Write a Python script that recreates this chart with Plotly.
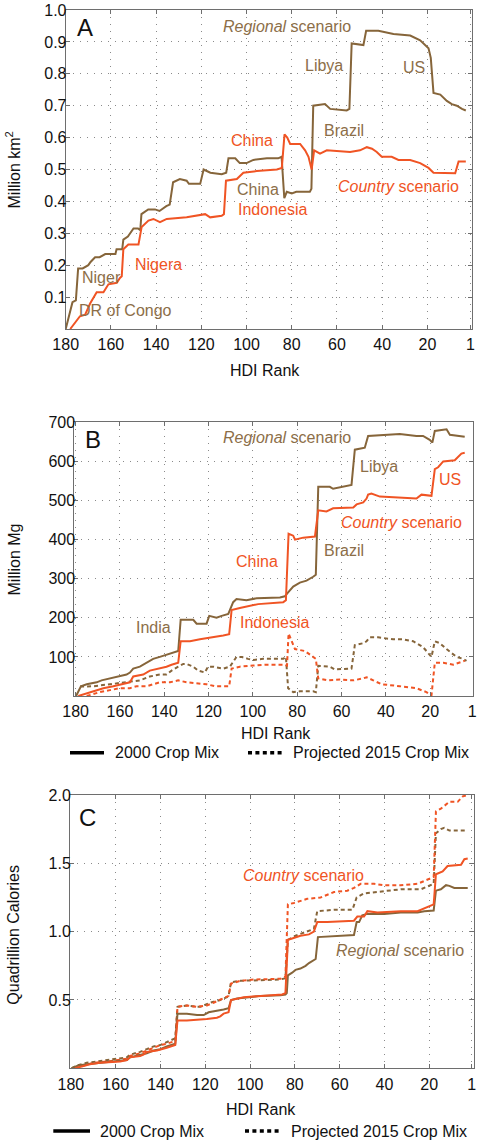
import plotly.graph_objects as go

# ---------------- data ----------------
# Panel A: cropland area, Million km2, versus HDI rank
A_reg_rank = [180, 178, 177, 175.5, 174.5, 172.5, 170, 169, 167, 165, 162.5, 158, 157.5, 155, 154.5, 152.5, 150, 148, 147, 146.5,
              143.5, 140.5, 138.5, 135.5, 134, 132.5, 129.5, 126.5, 125.5, 120.5, 119, 116, 111, 109, 108, 105, 103, 100, 97, 91,
              86, 84.5, 83.3, 82.2, 80, 78, 72, 71.3, 70.5, 65.3, 63, 55.7, 54.5, 53.5, 48.3, 47.1, 41.7, 35, 27.6, 23.2,
              19.5, 18.5, 17.3, 14.3, 11.4, 9.2, 7, 4.7, 3]
A_reg_val = [0, 0.06, 0.084, 0.09, 0.19, 0.19, 0.2, 0.21, 0.225, 0.225, 0.235, 0.235, 0.25, 0.25, 0.28, 0.29, 0.315, 0.315, 0.31, 0.36,
             0.375, 0.375, 0.37, 0.385, 0.39, 0.46, 0.47, 0.465, 0.455, 0.455, 0.5, 0.49, 0.485, 0.49, 0.535, 0.535, 0.52, 0.52, 0.53, 0.535,
             0.535, 0.54, 0.41, 0.43, 0.425, 0.43, 0.43, 0.44, 0.70, 0.705, 0.69, 0.685, 0.69, 0.895, 0.89, 0.935, 0.935, 0.925, 0.92, 0.905,
             0.88, 0.85, 0.74, 0.735, 0.715, 0.705, 0.70, 0.69, 0.685]
A_cty_rank = [178, 176, 173.7, 171.4, 169.2, 166.3, 163.3, 161.1, 157.4, 156, 155.2, 154.5, 152.3, 147.8, 146.4, 143.4, 141.2, 138.3, 135.3, 126.5,
              122, 118.3, 116.1, 111, 110, 109.1, 104.3, 101.4, 95.5, 86.6, 84.4, 83.2, 82, 80.7, 76.3, 74.1, 72.6, 71.2, 70.1, 67.5,
              64.5, 54.2, 49.8, 46.8, 44.5, 42.4, 40.2, 35.8, 32.8, 27.6, 23.2, 19.5, 17.3, 14.3, 7.7, 6.2, 3]
A_cty_val = [0, 0.02, 0.04, 0.045, 0.08, 0.115, 0.115, 0.14, 0.145, 0.16, 0.165, 0.25, 0.265, 0.265, 0.32, 0.34, 0.345, 0.335, 0.345, 0.35,
             0.355, 0.36, 0.35, 0.355, 0.36, 0.465, 0.47, 0.49, 0.495, 0.5, 0.505, 0.61, 0.60, 0.58, 0.58, 0.56, 0.54, 0.50, 0.56, 0.55,
             0.56, 0.555, 0.56, 0.57, 0.565, 0.555, 0.54, 0.54, 0.53, 0.53, 0.52, 0.505, 0.49, 0.49, 0.488, 0.525, 0.525]

# Panel B: production, Million Mg
B_reg_rank = [179.8, 177.6, 175, 170.5, 168.3, 164.5, 161.5, 157, 155.5, 154, 151, 148, 145, 142, 139, 136, 133.7, 132.6, 126.9, 125.4,
              120.9, 119.7, 116.4, 114.1, 111.1, 108.9, 107.4, 102.9, 98.3, 87.8, 85.6, 84.1, 81.8, 78.8, 75.8, 72.8, 71.6, 70.5, 65.3, 63.8,
              59.2, 55.5, 54, 49.5, 48, 41.2, 33.7, 26.2, 23.2, 20.2, 19, 17.9, 14.1, 12.6, 11.1, 8.1, 4.4]
B_reg_val = [0, 25, 30, 35, 40, 45, 50, 55, 60, 70, 75, 85, 95, 100, 105, 110, 115, 195, 195, 185,
             185, 205, 200, 205, 210, 240, 248, 245, 250, 252, 255, 265, 280, 290, 295, 305, 310, 535, 535, 530,
             535, 540, 630, 635, 665, 668, 670, 665, 665, 655, 648, 678, 680, 682, 668, 666, 663]
B_cty_rank = [178.8, 175.8, 173, 170.5, 167.5, 163, 158.5, 155.5, 154, 149.5, 146.5, 142.7, 139, 136.7, 133.7, 132.6, 128.4, 123.9, 117.9, 113.4,
              110.7, 109.6, 105.9, 101.4, 97.6, 86.3, 85.1, 83.9, 81.8, 81, 77.3, 72, 70.5, 66.8, 63.8, 54.7, 53.2, 50.2, 48.7, 48,
              46.5, 42.7, 33.7, 26.2, 23.9, 19.4, 17.9, 16.4, 14.1, 8.9, 5.9, 4.4]
B_cty_val = [0, 5, 10, 15, 20, 25, 30, 35, 50, 55, 65, 70, 75, 80, 85, 140, 140, 145, 150, 155,
             158, 220, 225, 230, 235, 240, 245, 415, 410, 400, 405, 408, 475, 472, 480, 482, 490, 495, 505, 515,
             518, 510, 508, 505, 515, 512, 580, 585, 600, 603, 620, 622]
B_reg15_rank = [178, 172, 164.5, 157, 151, 146.5, 142, 139, 136.7, 133.7, 131.4, 129.9, 126.9, 124.7, 121.7, 120.2, 117.9, 113.4, 110.4, 107.4,
                105.2, 102.2, 99.9, 95.4, 86.3, 85.1, 84.1, 81.8, 78.8, 72.8, 71.6, 70.5, 65.3, 63, 57.7, 55.5, 54, 50.2, 48.7, 47.2,
                43.5, 36.7, 32.2, 27.7, 23.2, 20.9, 19.4, 17.9, 15.6, 12.6, 10.4, 8.1, 5.1, 3.6]
B_reg15_val = [24, 25, 30, 35, 40, 50, 55, 55, 65, 75, 82, 82, 75, 65, 60, 75, 75, 70, 75, 100,
               100, 95, 92, 95, 95, 100, 20, 10, 12, 12, 10, 77, 75, 68, 70, 70, 130, 135, 140, 150,
               150, 145, 145, 140, 125, 110, 100, 140, 135, 120, 110, 100, 95, 90]
B_cty15_rank = [175, 172, 169, 164.5, 160, 155.5, 152.5, 148, 145, 142, 137.4, 133.7, 130, 125.4, 120.9, 117.1, 114.9, 110.7, 109.6, 105.9,
                99.9, 93.8, 85.6, 84.6, 83.9, 82.6, 81, 76.5, 72.8, 71.6, 70.5, 66, 60.8, 54.7, 50.2, 48.7, 45.7, 41.9, 33.7, 26.2,
                21.7, 19.4, 17.9, 14.1, 9.6, 6.6, 4.4]
B_cty15_val = [0, 5, 10, 15, 20, 20, 25, 25, 30, 35, 35, 40, 35, 32, 30, 25, 25, 25, 70, 75,
               78, 80, 80, 78, 160, 140, 120, 115, 100, 95, 45, 40, 42, 40, 45, 48, 40, 30, 25, 20,
               10, 2, 85, 85, 80, 85, 90]

# Panel C: Quadrillion Calories
C_reg_rank = [179.7, 176.7, 173, 170, 167, 162.5, 158, 155, 153.6, 149.1, 146.1, 143.1, 140.1, 137.2, 134.9, 133.4, 132.4, 128.2, 123.7, 120.7,
              118.5, 114.8, 111.8, 109.6, 108.5, 105.8, 101.3, 95.4, 86.4, 84.2, 83.6, 83.1, 81.2, 79.7, 77.5, 75.2, 73.7, 71.5, 70.7, 69.7,
              62.5, 55, 53.6, 52.4, 51.3, 49.9, 47.6, 40.1, 32.7, 25.2, 22.2, 18, 17, 14.8, 12.5, 11, 8.8, 2.8]
C_reg_val = [0, 0.02, 0.03, 0.035, 0.045, 0.05, 0.055, 0.06, 0.08, 0.10, 0.11, 0.13, 0.14, 0.16, 0.17, 0.18, 0.40, 0.40, 0.39, 0.39,
             0.41, 0.42, 0.43, 0.44, 0.50, 0.51, 0.52, 0.53, 0.535, 0.54, 0.55, 0.68, 0.70, 0.72, 0.73, 0.75, 0.77, 0.79, 0.80, 0.96,
             0.965, 0.97, 0.975, 1.07, 1.07, 1.12, 1.13, 1.13, 1.14, 1.14, 1.15, 1.155, 1.30, 1.31, 1.34, 1.335, 1.32, 1.32]
C_cty_rank = [178.2, 176, 171.5, 167, 162.5, 158, 155, 153.6, 149.1, 147.6, 146.1, 141.6, 137.2, 134.9, 133.4, 132.4, 128.2, 119.3, 114.8, 113.3,
              111.8, 109.6, 108.5, 102.8, 95.4, 85.7, 84.2, 83.1, 81.2, 77.5, 73.7, 71.5, 70, 65.5, 53.6, 52.1, 49.1, 47.6, 43.1, 32.7,
              25.2, 22.2, 18, 17, 14, 11.8, 5.8, 4.3, 2.8]
C_cty_val = [0, 0.01, 0.03, 0.04, 0.045, 0.05, 0.06, 0.08, 0.09, 0.10, 0.12, 0.13, 0.15, 0.16, 0.17, 0.35, 0.35, 0.36, 0.37, 0.38,
             0.40, 0.41, 0.50, 0.52, 0.53, 0.54, 0.55, 0.94, 0.95, 0.97, 0.98, 1.0, 1.07, 1.07, 1.08, 1.11, 1.11, 1.15, 1.14, 1.15,
             1.15, 1.17, 1.20, 1.42, 1.44, 1.48, 1.49, 1.53, 1.535]
C_reg15_rank = [179.7, 177.5, 173, 168.5, 164, 159.6, 155, 153.6, 149.1, 146.1, 143.1, 140.1, 137.2, 134.9, 133.4, 132.4, 128.2, 123.7, 122.2, 117.8,
                113.3, 110.3, 109.6, 108.5, 104.3, 95.4, 86.4, 84.2, 83.1, 79.7, 74.5, 71.5, 70, 62.5, 54.3, 52.4, 49.1, 43.1, 40.1, 32.7,
                23.7, 20.7, 18, 17, 14.8, 13.3, 11, 2.8]
C_reg15_val = [0, 0.02, 0.04, 0.05, 0.06, 0.07, 0.08, 0.10, 0.12, 0.14, 0.16, 0.17, 0.19, 0.21, 0.22, 0.45, 0.46, 0.45, 0.45, 0.48,
               0.50, 0.52, 0.53, 0.63, 0.64, 0.645, 0.65, 0.66, 0.94, 0.97, 1.0, 1.02, 1.15, 1.16, 1.16, 1.25, 1.28, 1.29, 1.30, 1.31,
               1.31, 1.33, 1.35, 1.72, 1.75, 1.76, 1.74, 1.74]
C_cty15_rank = [178.2, 174.5, 170, 164, 159.6, 155, 153.6, 149.1, 146.1, 143.1, 140.1, 137.2, 134.9, 133.4, 132.4, 128.2, 123.7, 119.3, 116.3, 113.3,
                110.3, 109.6, 108.5, 104.3, 98.3, 92.3, 86.4, 84.2, 83.1, 80.4, 74.5, 68.5, 65.5, 62.5, 56.6, 53.6, 50.6, 44.6, 40.1, 32.7,
                25.2, 22.2, 18, 17, 14.8, 11, 7.3, 5, 2.8]
C_cty15_val = [0, 0.02, 0.04, 0.05, 0.06, 0.07, 0.09, 0.11, 0.13, 0.15, 0.17, 0.18, 0.19, 0.20, 0.45, 0.46, 0.45, 0.46, 0.48, 0.50,
               0.52, 0.53, 0.62, 0.64, 0.65, 0.65, 0.655, 0.67, 1.20, 1.21, 1.24, 1.25, 1.27, 1.29, 1.30, 1.32, 1.35, 1.35, 1.34, 1.34,
               1.35, 1.37, 1.40, 1.88, 1.90, 1.95, 1.95, 1.99, 2.0]

x_ticks = [180, 160, 140, 120, 100, 80, 60, 40, 20, 1]
A_yticks = [0.1, 0.2, 0.3, 0.4, 0.5, 0.6, 0.7, 0.8, 0.9, 1.0]
B_yticks = [100, 200, 300, 400, 500, 600, 700]
C_yticks = [0.5, 1.0, 1.5, 2.0]

# ---------------- styling ----------------
W, H = 480, 1144
BROWN = "#86653A"
BROWN_T = "#8C6E48"
ORANGE = "#F05424"
FONT = "Liberation Sans, Arial, sans-serif"
DASH = "4px,3px"

fig = go.Figure()

def add_line(xs, ys, color, axis, dash="solid"):
    fig.add_trace(go.Scatter(x=xs, y=ys, mode="lines", xaxis="x" + axis, yaxis="y" + axis,
                             line=dict(color=color, width=2, dash=dash), showlegend=False,
                             hoverinfo="skip"))

add_line(A_reg_rank, A_reg_val, BROWN, "")
add_line(A_cty_rank, A_cty_val, ORANGE, "")
add_line(B_reg15_rank, B_reg15_val, BROWN, "2", DASH)
add_line(B_cty15_rank, B_cty15_val, ORANGE, "2", DASH)
add_line(B_reg_rank, B_reg_val, BROWN, "2")
add_line(B_cty_rank, B_cty_val, ORANGE, "2")
add_line(C_reg15_rank, C_reg15_val, BROWN, "3", DASH)
add_line(C_cty15_rank, C_cty15_val, ORANGE, "3", DASH)
add_line(C_reg_rank, C_reg_val, BROWN, "3")
add_line(C_cty_rank, C_cty_val, ORANGE, "3")

def px(x, y):
    return x / W, 1 - y / H

def common(standoff):
    return dict(showline=True, linecolor="#6E6E6E", linewidth=1, mirror="ticks",
                ticks="inside", ticklen=4, tickcolor="#6E6E6E",
                showgrid=True, gridcolor="#8A8A8A", griddash="1px,6px", gridwidth=1,
                zeroline=False, tickfont=dict(family=FONT, size=16, color="#111111"),
                ticklabelstandoff=standoff, automargin=False, ticklabeloverflow="allow")

def xaxis(domain, rng, anchor):
    d = dict(domain=domain, range=rng, anchor=anchor, tickvals=x_ticks, ticktext=[str(t) for t in x_ticks])
    d.update(common(1))
    return d

def yaxis(domain, rng, anchor, ticks, fmt):
    d = dict(domain=domain, range=rng, anchor=anchor, tickvals=ticks, tickformat=fmt)
    d.update(common(-5))
    return d

fig.update_layout(
    width=W, height=H, autosize=False,
    margin=dict(l=0, r=0, t=0, b=0, autoexpand=False),
    paper_bgcolor="white", plot_bgcolor="white",
    font=dict(family=FONT, size=16, color="#111111"),
    xaxis=xaxis([65.7 / W, 471.7 / W], [180, 0.4], "y"),
    yaxis=yaxis([1 - 329 / H, 1 - 10 / H], [0, 1.0], "x", A_yticks, ".1f"),
    xaxis2=xaxis([74.3 / W, 472.7 / W], [180.6, 0.8], "y2"),
    yaxis2=yaxis([1 - 696 / H, 1 - 422.3 / H], [0, 700], "x2", B_yticks, "d"),
    xaxis3=xaxis([70 / W, 474 / W], [180.4, 0], "y3"),
    yaxis3=yaxis([1 - 1068.3 / H, 1 - 795 / H], [0, 2.0], "x3", C_yticks, ".1f"),
)

anns = []
def ann(text, x, y, color="#111111", size=16, xanchor="center", angle=0):
    ax, ay = px(x, y)
    anns.append(dict(text=text, x=ax, y=ay, xref="paper", yref="paper", showarrow=False,
                     xanchor=xanchor, yanchor="middle", textangle=angle,
                     font=dict(family=FONT, size=size, color=color)))

# Panel A
ann("A", 85, 27, size=24)
ann("<i>Regional</i> scenario", 287, 26.7, BROWN_T)
ann("Libya", 324, 65.7, BROWN_T)
ann("US", 414.3, 67.7, BROWN_T)
ann("Brazil", 344.3, 130, BROWN_T)
ann("China", 252.3, 140, ORANGE)
ann("<i>Country</i> scenario", 398.3, 186.7, ORANGE)
ann("China", 257.7, 189.3, BROWN_T)
ann("Indonesia", 272.7, 209, ORANGE)
ann("Nigera", 158.7, 264.3, ORANGE)
ann("Niger", 101.7, 277.7, BROWN_T)
ann("DR of Congo", 125, 310.7, BROWN_T)
ann("HDI Rank", 265, 370)
ann("Million km<sup>2</sup>", 13.5, 170, angle=-90)

# Panel B
ann("B", 92.7, 440, size=24)
ann("<i>Regional</i> scenario", 287.3, 437.3, BROWN_T)
ann("Libya", 379.3, 466.7, BROWN_T)
ann("US", 450, 479, ORANGE)
ann("<i>Country</i> scenario", 401.7, 522.7, ORANGE)
ann("Brazil", 344.3, 550.7, BROWN_T)
ann("China", 256.7, 561.7, ORANGE)
ann("India", 153.7, 627.3, BROWN_T)
ann("Indonesia", 274, 622.7, ORANGE)
ann("HDI Rank", 276, 733.3)
ann("Million Mg", 13.5, 560, angle=-90)
ann("2000 Crop Mix", 112.7, 752.7, xanchor="left")
ann("Projected 2015 Crop Mix", 291, 752.7, xanchor="left")

# Panel C
ann("C", 87.3, 817.3, size=24)
ann("<i>Country</i> scenario", 303.3, 875, ORANGE)
ann("<i>Regional</i> scenario", 400, 950, BROWN_T)
ann("HDI Rank", 260.7, 1109.3)
ann("Quadrillion Calories", 12.7, 935, angle=-90)
ann("2000 Crop Mix", 98.3, 1131, xanchor="left")
ann("Projected 2015 Crop Mix", 289.3, 1131, xanchor="left")

fig.update_layout(annotations=anns)

# legend keys (drawn as shapes in paper space)
shapes = []
def key(x0, x1, y, dash):
    a0, b0 = px(x0, y)
    a1, _ = px(x1, y)
    shapes.append(dict(type="line", xref="paper", yref="paper", x0=a0, x1=a1, y0=b0, y1=b0,
                       line=dict(color="black", width=3.5, dash=dash)))
key(70, 104, 752.7, "solid")
key(248, 285, 752.7, "4px,3.4px")
key(53.3, 90, 1131, "solid")
key(245, 281.7, 1131, "4px,3.4px")
fig.update_layout(shapes=shapes)

fig.write_html("out.html", config={"displayModeBar": False},
               post_script="document.body.style.margin='0';document.body.style.overflow='hidden';")
